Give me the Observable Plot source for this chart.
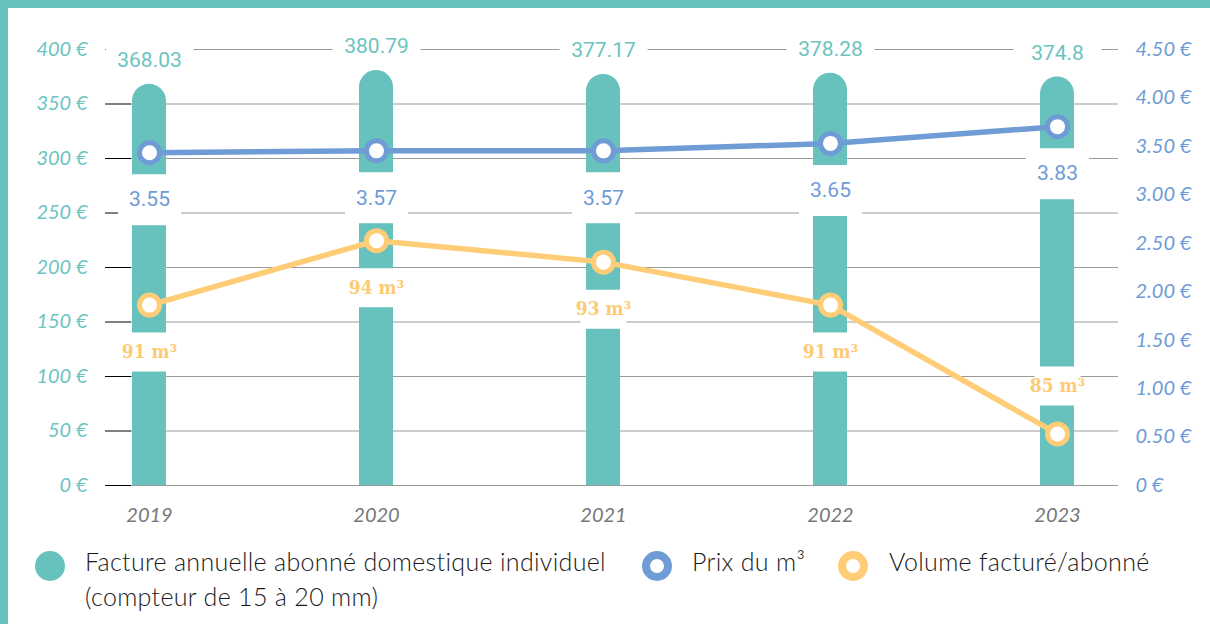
<!DOCTYPE html>
<html><head><meta charset="utf-8">
<script src="https://cdn.jsdelivr.net/npm/d3@7"></script>
<script src="https://cdn.jsdelivr.net/npm/@observablehq/plot@0.6"></script>
<style>
html,body{margin:0;padding:0;background:#fff;}
#wrap{position:relative;width:1210px;height:624px;overflow:hidden;background:#fff;}
#chart{position:absolute;left:0;top:0;}
.bt{position:absolute;left:0;top:0;width:1210px;height:8px;background:#67C2BE;}
.bl{position:absolute;left:0;top:0;width:8px;height:624px;background:#67C2BE;}
.leg{position:absolute;font-family:"Lato Light",Lato;font-weight:300;font-size:25px;letter-spacing:0.32px;color:#1a1a1a;line-height:35px;white-space:pre;}
.sw{position:absolute;width:30px;height:30px;border-radius:50%;box-sizing:border-box;}
#chart svg g[aria-label="y-axis tick label"] text, #chart svg g[aria-label="x-axis tick label"] text{font-style:italic;}
</style></head>
<body><div id="wrap"><div id="chart"></div>
<div class="bt"></div><div class="bl"></div>
<div id="legend"></div>
</div>
<script>
const years = ["2019", "2020", "2021", "2022", "2023"];
const factureValues = [368.03, 380.79, 377.17, 378.28, 374.8];
const prixValues = [3.55, 3.57, 3.57, 3.65, 3.83];
const volumeValues = [91, 94, 93, 91, 85];
const leftTicks = [0, 50, 100, 150, 200, 250, 300, 350, 400];
const rightTicks = [0, 0.5, 1, 1.5, 2, 2.5, 3, 3.5, 4, 4.5];
const leftDomain = [0, 400];
const rightAxisDomain = [0, 4.5];
const prixLineDomain = [-0.03, 4.66];
const volumeLineDomain = [82.6, 102.9];
const legendLabels = ["Facture annuelle abonné domestique individuel\n(compteur de 15 à 20 mm)", "Prix du m³", "Volume facturé/abonné"];

const TEAL = "#67C2BE", BLUE = "#6F9CD5", YELLOW = "#FFCD78";
const TEAL_TXT = "#6CC4BF", BLUE_TXT = "#6E9BD6", YELLOW_TXT = "#FDCB74";

const data = years.map((year, i) => ({year, i, facture: factureValues[i], prix: prixValues[i], volume: volumeValues[i]}));
const prixToY = d3.scaleLinear(prixLineDomain, leftDomain);
const volToY = d3.scaleLinear(volumeLineDomain, leftDomain);
const rightToY = d3.scaleLinear(rightAxisDomain, leftDomain);
const box = (w, h) => ({draw(ctx) { ctx.rect(-w / 2, -h / 2, w, h); }});
const last = years.length - 1;
const volFont = {fill: YELLOW_TXT, fontSize: 19, fontWeight: 600, fontFamily: "'DejaVu Serif Condensed', 'DejaVu Serif'"};

const chart = Plot.plot({
  width: 1210, height: 530,
  marginTop: 49, marginBottom: 45, marginLeft: 131, marginRight: 92,
  x: {type: "band", domain: years, range: [131, 1075], paddingInner: 0.85, paddingOuter: 0},
  y: {domain: leftDomain, range: [485, 49]},
  style: {fontFamily: "Lato", background: "white", overflow: "visible"},
  marks: [
    Plot.ruleY(leftTicks, {stroke: "#9a9a9a", strokeWidth: 1}),
    Plot.axisY(leftTicks, {anchor: "left", tickSize: 26, tickPadding: 18, stroke: "#000", fill: TEAL_TXT,
      fontSize: 20, fontStyle: "italic", label: null, tickFormat: d => d + " €"}),
    Plot.axisY(rightTicks.map(rightToY), {anchor: "right", tickSize: 0, tickPadding: 17, fill: BLUE_TXT,
      fontSize: 20, fontStyle: "italic", label: null,
      tickFormat: d => { const p = Math.round(rightToY.invert(d) * 100) / 100; return p === 0 ? "0 €" : p.toFixed(2) + " €"; }}),
    Plot.axisX({tickSize: 0, tickPadding: 22, fill: "#777", fontSize: 20, fontStyle: "italic", label: null}),
    Plot.barY(data, {x: "year", y: "facture", fill: TEAL, rx: 17}),
    Plot.barY(data, {x: "year", y: d => d.facture / 2, fill: TEAL}),
    Plot.line(data, {x: "year", y: d => volToY(d.volume), stroke: YELLOW, strokeWidth: 5.5}),
    Plot.line(data, {x: "year", y: d => prixToY(d.prix), stroke: BLUE, strokeWidth: 5.5}),
    Plot.dot(data, {x: "year", y: d => volToY(d.volume), r: 10, fill: "white", stroke: YELLOW, strokeWidth: 5}),
    Plot.dot(data, {x: "year", y: d => prixToY(d.prix), r: 10, fill: "white", stroke: BLUE, strokeWidth: 5}),
    // white label boxes
    Plot.dot(data, {x: "year", y: "facture", dy: -24, symbol: box(88, 40), fill: "white", stroke: "none"}),
    Plot.dot(data, {x: "year", y: d => prixToY(d.prix), dy: 47, symbol: box(63, 51), fill: "white", stroke: "none"}),
    Plot.dot(data, {filter: d => d.i < last, x: "year", y: d => volToY(d.volume), dy: 47, symbol: box(46, 39), fill: "white", stroke: "none"}),
    Plot.dot(data, {filter: d => d.i === last, x: "year", y: d => volToY(d.volume), dy: -48, symbol: box(46, 39), fill: "white", stroke: "none"}),
    // labels
    Plot.text(data, {x: "year", y: "facture", dy: -24, text: d => String(d.facture), fill: TEAL_TXT, fontSize: 21, fontFamily: "Roboto"}),
    Plot.text(data, {x: "year", y: d => prixToY(d.prix), dy: 47, text: d => d.prix.toFixed(2), fill: BLUE_TXT, fontSize: 21, fontFamily: "Roboto"}),
    Plot.text(data, {filter: d => d.i < last, x: "year", y: d => volToY(d.volume), dy: 47, text: d => d.volume + " m³", ...volFont}),
    Plot.text(data, {filter: d => d.i === last, x: "year", y: d => volToY(d.volume), dy: -48, text: d => d.volume + " m³", ...volFont})
  ]
});
document.getElementById("chart").appendChild(chart);

const legend = document.getElementById("legend");
const legendItems = [
  {label: legendLabels[0], cx: 50, tx: 85, style: `background:${TEAL};`},
  {label: legendLabels[1], cx: 657, tx: 692, style: `background:#fff;border:8.5px solid ${BLUE};`},
  {label: legendLabels[2], cx: 853, tx: 889, style: `background:#fff;border:8.5px solid ${YELLOW};`}
];
for (const it of legendItems) {
  const sw = document.createElement("div");
  sw.className = "sw";
  sw.style.cssText = `left:${it.cx - 15}px;top:551px;` + it.style;
  legend.appendChild(sw);
  const t = document.createElement("div");
  t.className = "leg";
  t.style.left = it.tx + "px";
  t.style.top = "544px";
  t.textContent = it.label;
  legend.appendChild(t);
}
</script>
</body></html>
